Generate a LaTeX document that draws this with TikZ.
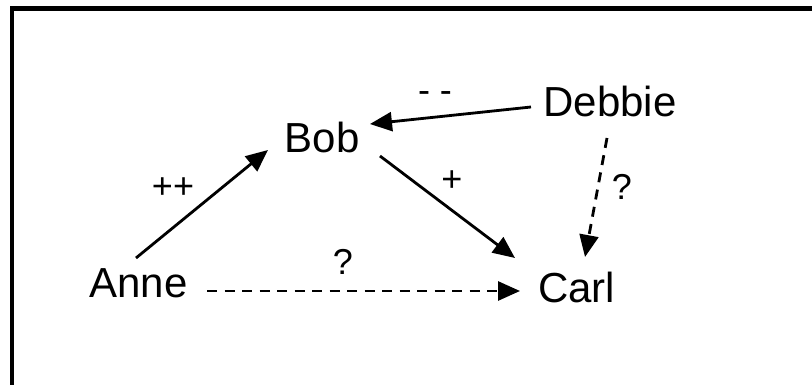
\documentclass[tikz,border=0pt]{standalone}
\usepackage{fontspec}
\setmainfont{Liberation Sans}
\usetikzlibrary{arrows.meta,calc}
\begin{document}
\begin{tikzpicture}[x=1pt,y=-1pt,
  person/.style={inner sep=0pt,anchor=base,font=\fontsize{42}{48}\selectfont},
  lbl/.style={inner sep=0pt,anchor=center,font=\fontsize{36}{40}\selectfont},
  conn/.style={line width=2.8pt,-{Triangle[length=22pt,width=19pt]}},
  dconn/.style={conn,dash pattern=on 10pt off 7.5pt}]
\useasboundingbox (0,0) rectangle (812,385);
\clip (0,0) rectangle (812,385);
\fill[white] (0,0) rectangle (812,385);
\draw[line width=4.6pt] (12,400) -- (12,8.5) -- (830,8.5);
\node[person] (anne) at (138.5,297) {Anne};
\node[person] (bob) at (322,153) {Bob};
\node[person] (debbie) at (610,117) {Debbie};
\node[person] (carl) at (576.5,302) {Carl};
\draw[conn] ($(anne.base)+(-2.5,-39)$) -- ($(bob.base)+(-54,-3)$);
\draw[conn] ($(debbie.base)+(-79,-10)$) -- ($(bob.base)+(48,-29)$);
\draw[conn] ($(bob.base)+(58,3)$) -- ($(carl.base)+(-61.5,-44)$);
\draw[dconn] ($(anne.base)+(68.5,-6)$) -- ($(carl.base)+(-56.5,-11)$);
\draw[dconn] ($(debbie.base)+(-3,21)$) -- ($(carl.base)+(8.5,-45)$);
\node[lbl] (l1) at (435,97) {- -};
\node[lbl] (l2) at (173,188) {++};
\node[lbl] (l3) at (452,181) {+};
\node[lbl] (l4) at (343,262) {?};
\node[lbl] (l5) at (622,186.5) {?};
\end{tikzpicture}
\end{document}
